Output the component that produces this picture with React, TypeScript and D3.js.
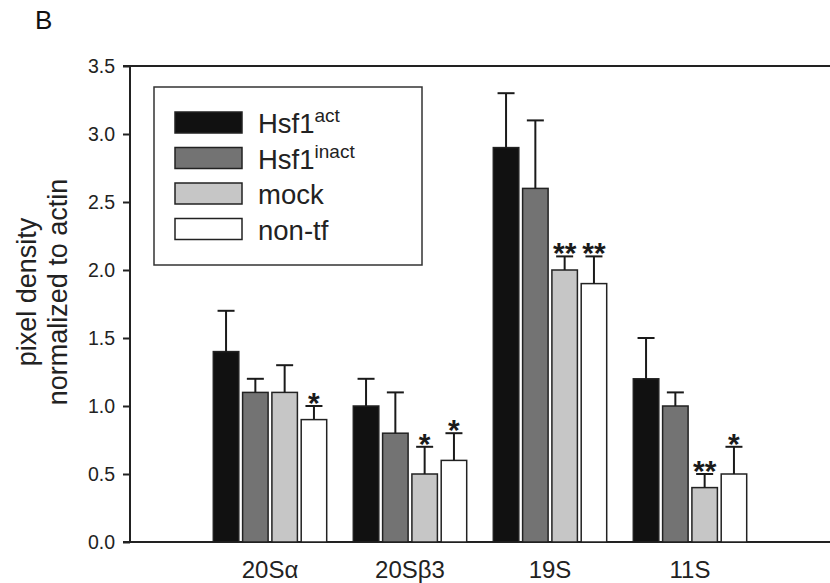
import React, { useEffect, useRef } from "react";
import * as d3 from "d3";

const categories = ["20S\u03b1", "20S\u03b23", "19S", "11S"];
const seriesNames = ["Hsf1", "Hsf1", "mock", "non-tf"];
const seriesSup = ["act", "inact", "", ""];
const seriesColors = ["#111111", "#737373", "#c6c6c6", "#ffffff"];

// means, one array per series (order follows categories)
const hsf1Act = [1.4, 1.0, 2.9, 1.2];
const hsf1Inact = [1.1, 0.8, 2.6, 1.0];
const mock = [1.1, 0.5, 2.0, 0.4];
const nonTf = [0.9, 0.6, 1.9, 0.5];

// top of the error bar
const hsf1ActErr = [1.7, 1.2, 3.3, 1.5];
const hsf1InactErr = [1.2, 1.1, 3.1, 1.1];
const mockErr = [1.3, 0.7, 2.1, 0.5];
const nonTfErr = [1.0, 0.8, 2.1, 0.7];

// significance marks
const hsf1ActSig = ["", "", "", ""];
const hsf1InactSig = ["", "", "", ""];
const mockSig = ["", "*", "**", "**"];
const nonTfSig = ["*", "*", "**", "*"];

const yTicks = [0, 0.5, 1.0, 1.5, 2.0, 2.5, 3.0, 3.5];

const FONT = "'Liberation Sans', Arial, Helvetica, sans-serif";

function App() {
  const svgRef = useRef<SVGSVGElement | null>(null);
  const width = 830;
  const height = 583;

  useEffect(() => {
    const means = [hsf1Act, hsf1Inact, mock, nonTf];
    const errs = [hsf1ActErr, hsf1InactErr, mockErr, nonTfErr];
    const sigs = [hsf1ActSig, hsf1InactSig, mockSig, nonTfSig];

    const left = 130, right = 830, top = 66, bottom = 542;

    const x = d3.scaleLinear().domain([0, 5]).range([left, right]);
    const y = d3.scaleLinear().domain([0, 3.5]).range([bottom, top]);
    const step = 29.3;
    const barW = 25.5;

    const svgEl = d3.select(svgRef.current);
    svgEl.selectAll("*").remove();
    const svg = svgEl.append("g");

    // panel letter
    svg.append("text")
      .attr("x", 35).attr("y", 29)
      .attr("font-family", FONT).attr("font-size", 26)
      .attr("fill", "#111")
      .text("B");

    // y axis
    const yAxis = d3.axisLeft(y)
      .tickValues(yTicks)
      .tickSize(7)
      .tickPadding(8)
      .tickFormat(d3.format(".1f"));
    const yAxisGroup = svg.append("g")
      .attr("transform", `translate(${left},0)`)
      .call(yAxis);
    yAxisGroup.select(".domain").remove();
    yAxisGroup.selectAll("line").attr("stroke", "#222").attr("stroke-width", 2);
    yAxisGroup.selectAll("text")
      .attr("font-family", FONT)
      .attr("font-size", 19.5)
      .attr("fill", "#222");

    // frame lines: left, bottom and top
    svg.append("line")
      .attr("x1", left).attr("x2", left).attr("y1", top - 1).attr("y2", bottom + 1)
      .attr("stroke", "#222").attr("stroke-width", 2);
    svg.append("line")
      .attr("x1", left - 7).attr("x2", right).attr("y1", bottom).attr("y2", bottom)
      .attr("stroke", "#222").attr("stroke-width", 2);
    svg.append("line")
      .attr("x1", left - 7).attr("x2", right).attr("y1", top).attr("y2", top)
      .attr("stroke", "#222").attr("stroke-width", 2);

    // y label
    const yl = svg.append("text")
      .attr("transform", "translate(0,292) rotate(-90)")
      .attr("text-anchor", "middle")
      .attr("font-family", FONT).attr("font-size", 27)
      .attr("fill", "#222");
    yl.append("tspan").attr("x", 0).attr("y", 36).text("pixel density");
    yl.append("tspan").attr("x", 0).attr("y", 67).text("normalized to actin");

    // bars
    means.forEach((vals, j) => {
      const g = svg.append("g");
      const cx = (i: number) => x(i + 1) + (j - 1.5) * step;
      g.selectAll("rect")
        .data(vals)
        .enter().append("rect")
        .attr("x", (d, i) => cx(i) - barW / 2)
        .attr("y", (d) => y(d))
        .attr("width", barW)
        .attr("height", (d) => y(0) - y(d))
        .attr("fill", seriesColors[j])
        .attr("stroke", "#222")
        .attr("stroke-width", 1.5);

      // error bars
      g.selectAll(".err")
        .data(vals)
        .enter().append("line")
        .attr("class", "err")
        .attr("x1", (d, i) => cx(i)).attr("x2", (d, i) => cx(i))
        .attr("y1", (d) => y(d))
        .attr("y2", (d, i) => y(errs[j][i]))
        .attr("stroke", "#1a1a1a").attr("stroke-width", 2);
      g.selectAll(".cap")
        .data(vals)
        .enter().append("line")
        .attr("class", "cap")
        .attr("x1", (d, i) => cx(i) - 8.5).attr("x2", (d, i) => cx(i) + 8.5)
        .attr("y1", (d, i) => y(errs[j][i]))
        .attr("y2", (d, i) => y(errs[j][i]))
        .attr("stroke", "#1a1a1a").attr("stroke-width", 2);

      // asterisks
      g.selectAll(".sig")
        .data(vals)
        .enter().append("text")
        .attr("class", "sig")
        .attr("x", (d, i) => cx(i))
        .attr("y", (d, i) => y(errs[j][i]) + 7)
        .attr("text-anchor", "middle")
        .attr("font-family", FONT).attr("font-size", 30)
        .attr("font-weight", "bold")
        .attr("fill", "#1a1a1a")
        .text((d, i) => sigs[j][i]);
    });

    // category labels
    svg.selectAll(".cat")
      .data(categories)
      .enter().append("text")
      .attr("class", "cat")
      .attr("x", (d, i) => x(i + 1))
      .attr("y", 578)
      .attr("text-anchor", "middle")
      .attr("font-family", FONT).attr("font-size", 24)
      .attr("fill", "#222")
      .text((d) => d);

    // legend
    const legend = svg.append("g");
    legend.append("rect")
      .attr("x", 154).attr("y", 87).attr("width", 268).attr("height", 178)
      .attr("fill", "#fff").attr("stroke", "#333").attr("stroke-width", 1.5);
    seriesNames.forEach((name, j) => {
      const ry = 112 + j * 35.5;
      legend.append("rect")
        .attr("x", 175).attr("y", ry).attr("width", 67).attr("height", 21)
        .attr("fill", seriesColors[j]).attr("stroke", "#222").attr("stroke-width", 1.5);
      const t = legend.append("text")
        .attr("x", 258).attr("y", ry + 21)
        .attr("font-family", FONT).attr("font-size", 27.5)
        .attr("fill", "#222");
      t.append("tspan").text(name);
      if (seriesSup[j]) {
        t.append("tspan").attr("dy", -11).attr("font-size", 19).text(seriesSup[j]);
      }
    });
  }, []);

  return (
    <svg
      ref={svgRef}
      width={width}
      height={height}
      style={{ position: "absolute", left: 0, top: 0, background: "#fff" }}
    />
  );
}

export default App;
